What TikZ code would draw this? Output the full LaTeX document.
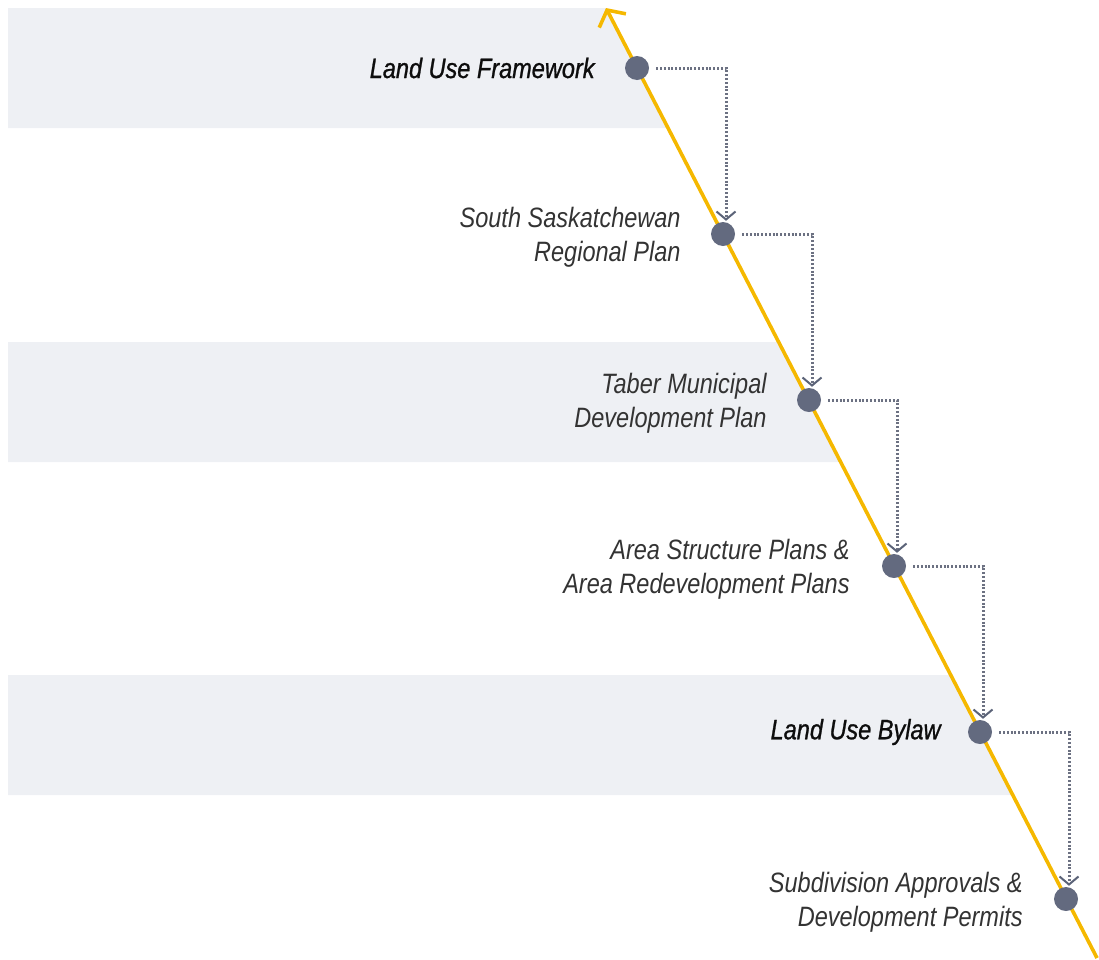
\documentclass[tikz,border=0pt]{standalone}
\usepackage{fontspec}
\usetikzlibrary{arrows.meta,positioning,calc}
\newfontfamily\lblfont{Liberation Sans}[FakeStretch=0.84]
\newfontfamily\lblboldfont{Liberation Sans}[FakeStretch=0.84,FakeBold=0.9]
\definecolor{band}{HTML}{EEF0F4}
\definecolor{gold}{HTML}{F5B800}
\definecolor{dotc}{HTML}{636A7F}
\definecolor{conn}{HTML}{6C7182}
\definecolor{tipc}{HTML}{5B6378}
\tikzset{
  stage/.style={circle,fill=dotc,minimum size=24pt,inner sep=0pt},
  lightlbl/.style={inner sep=0pt,align=right,yshift=-3pt,font=\lblfont\itshape\fontsize{28}{34}\selectfont,text=black!80},
  boldlbl/.style={inner sep=0pt,align=right,yshift=0pt,font=\lblboldfont\itshape\fontsize{28}{34}\selectfont,text=black!95},
  flow/.style={conn,line width=3pt,dash pattern=on 2pt off 1.8pt,
    -{Straight Barb[length=8pt,width=19pt,line width=2pt,color=tipc]}},
  axis/.style={gold,line width=3.6pt,
    -{Straight Barb[length=12pt,width=30pt,line width=3.6pt]}}
}
\begin{document}
\begin{tikzpicture}[x=1pt,y=-1pt]
\useasboundingbox (0,0) rectangle (1099,959);
% line coordinates
\coordinate (bot) at (1097,958);
\coordinate (top) at (606,8);
% bands (clipped by the axis)
\fill[band] (8,8) -- (606,8) -- (668,128) -- (8,128) -- cycle;
\fill[band] (8,342) -- (778,342) -- (840,462) -- (8,462) -- cycle;
\fill[band] (8,675) -- (950,675) -- (1012,795) -- (8,795) -- cycle;
% axis
\draw[axis] (bot) -- (top);
% stages
\node[stage] (d1) at (637,68) {};
\node[stage] (d2) at (723,234) {};
\node[stage] (d3) at (809,400) {};
\node[stage] (d4) at (894,566) {};
\node[stage] (d5) at (980,732) {};
\node[stage] (d6) at (1066,899) {};
% connectors
\draw[flow] ([xshift=7pt]d1.east) -| ([xshift=3pt,yshift=1pt]d2.north);
\draw[flow] ([xshift=7pt]d2.east) -| ([xshift=3pt,yshift=1pt]d3.north);
\draw[flow] ([xshift=7pt]d3.east) -| ([xshift=3pt,yshift=1pt]d4.north);
\draw[flow] ([xshift=7pt]d4.east) -| ([xshift=3pt,yshift=1pt]d5.north);
\draw[flow] ([xshift=7pt]d5.east) -| ([xshift=3pt,yshift=1pt]d6.north);
% labels
\node[boldlbl,left=30pt of d1] (l1) {Land Use Framework};
\node[lightlbl,left=30pt of d2] (l2) {South Saskatchewan\\Regional Plan};
\node[lightlbl,left=30pt of d3] (l3) {Taber Municipal\\Development Plan};
\node[lightlbl,left=32pt of d4] (l4) {Area Structure Plans \&\\Area Redevelopment Plans};
\node[boldlbl,left=27pt of d5] (l5) {Land Use Bylaw};
\node[lightlbl,left=31pt of d6] (l6) {Subdivision Approvals \&\\Development Permits};
\end{tikzpicture}
\end{document}
